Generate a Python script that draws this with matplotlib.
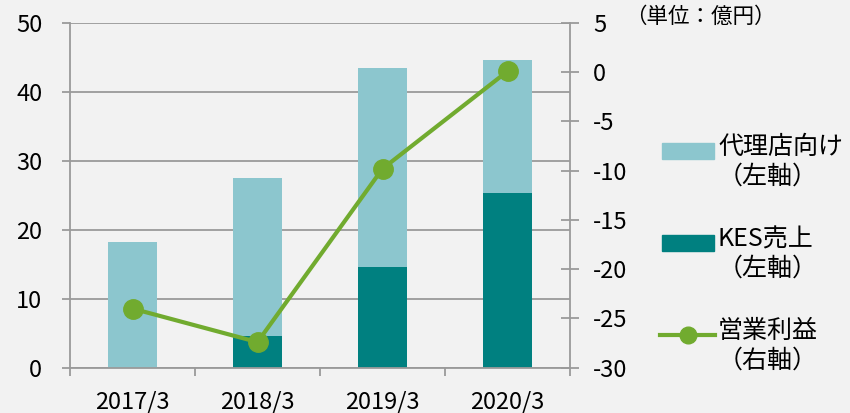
import matplotlib
matplotlib.use("Agg")
import matplotlib.pyplot as plt
from matplotlib.patches import Rectangle
from matplotlib.lines import Line2D
import numpy as np

plt.rcParams['font.family'] = ['Noto Sans CJK JP', 'DejaVu Sans']
plt.rcParams['axes.unicode_minus'] = False

years = ['2017/3', '2018/3', '2019/3', '2020/3']
kes_sales = [0.0, 4.6, 14.6, 25.3]
agency_sales = [18.3, 22.9, 28.9, 19.3]
op_profit = [-24.0, -27.4, -9.8, 0.1]

c_light = '#8cc6ce'
c_dark = '#008080'
c_green = '#71ab2f'
c_grid = '#9a9a9a'
bg = '#f2f2f2'

W, H = 850, 413
fig = plt.figure(figsize=(W / 100, H / 100), dpi=100, facecolor=bg)
ax = fig.add_axes([70 / W, 1 - 367.7 / H, 500 / W, 344.7 / H])
ax.set_facecolor(bg)

x = np.arange(len(years))
ax.bar(x, kes_sales, width=0.39, color=c_dark, zorder=2)
ax.bar(x, agency_sales, width=0.39, bottom=kes_sales, color=c_light, zorder=2)

ax.set_xlim(-0.5, 3.5)
ax.set_ylim(0, 50)
ax.set_yticks(range(0, 51, 10))
ax.yaxis.grid(True, color=c_grid, lw=1.3)
ax.set_axisbelow(True)
ax.set_xticks(x)
ax.set_xticklabels(years)
ax.set_xticks(np.arange(-0.5, 4, 1), minor=True)
ax.tick_params(axis='x', which='major', length=0, pad=16.5, labelsize=17)
ax.tick_params(axis='x', which='minor', length=6, width=1.3, color=c_grid)
ax.tick_params(axis='y', length=6, width=1.3, color=c_grid, pad=14, labelsize=17)
for s in ['top', 'right']:
    ax.spines[s].set_visible(False)
for s in ['left', 'bottom']:
    ax.spines[s].set_color(c_grid)
    ax.spines[s].set_linewidth(1.3)

ax2 = ax.twinx()
ax2.plot(x, op_profit, color=c_green, lw=3, marker='o', ms=14, zorder=3)
ax2.set_ylim(-30, 5)
ax2.set_yticks(range(-30, 6, 5))
ax2.tick_params(axis='y', direction='inout', length=13, width=1.3, color=c_grid,
                pad=10, labelsize=17)
for s in ['top', 'left', 'bottom']:
    ax2.spines[s].set_visible(False)
ax2.spines['right'].set_color(c_grid)
ax2.spines['right'].set_linewidth(1.3)


def fx(px):
    return px / W


def fy(py):
    return 1 - py / H


fig.text(fx(625), fy(17), '（単位：億円）', fontsize=15.5, va='center', ha='left')

# legend
fig.patches.append(Rectangle((fx(662), fy(159)), 52 / W, 16 / H, color=c_light,
                             transform=fig.transFigure, figure=fig))
fig.text(fx(718), fy(147), '代理店向け', fontsize=18, va='center')
fig.text(fx(718), fy(177), '（左軸）', fontsize=18, va='center')

fig.patches.append(Rectangle((fx(662), fy(251)), 52 / W, 16 / H, color=c_dark,
                             transform=fig.transFigure, figure=fig))
fig.text(fx(718), fy(240), 'KES売上', fontsize=18, va='center')
fig.text(fx(718), fy(269), '（左軸）', fontsize=18, va='center')

fig.lines.append(Line2D([fx(660), fx(715)], [fy(335), fy(335)], color=c_green, lw=3,
                        transform=fig.transFigure, figure=fig))
fig.lines.append(Line2D([fx(688)], [fy(335)], color=c_green, marker='o', ms=12,
                        transform=fig.transFigure, figure=fig))
fig.text(fx(718), fy(331), '営業利益', fontsize=18, va='center')
fig.text(fx(718), fy(361), '（右軸）', fontsize=18, va='center')

fig.savefig('out.png', dpi=100, facecolor=bg)
